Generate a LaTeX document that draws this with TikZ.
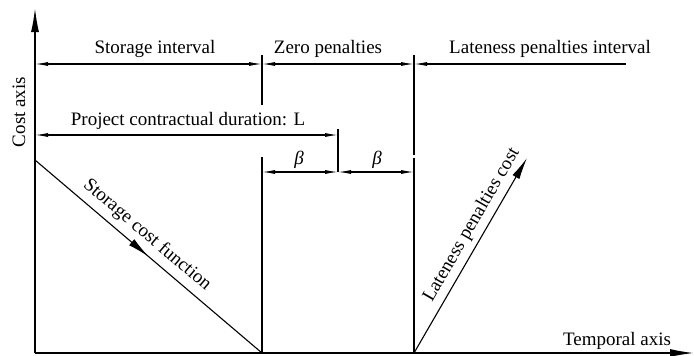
\documentclass[tikz,border=0pt]{standalone}
\usepackage{fontspec}
\setmainfont{Liberation Serif}
\usepackage{tikz}
\usetikzlibrary{arrows.meta, decorations.markings}
\tikzset{
    axis/.style   = {line width=1.5pt, -{Latex[length=24pt,width=8pt]}},
    dim/.style    = {line width=1.1pt},
    tip/.style    = {{Latex[length=13pt,width=4pt]}-{Latex[length=13pt,width=4pt]}},
    tick/.style   = {line width=1.1pt},
    lbl/.style    = {font=\fontsize{19}{22}\selectfont, inner sep=1pt},
    fn/.style     = {line width=1.1pt},
}

\begin{document}
\begin{tikzpicture}[x=1pt, y=-1pt]
        \useasboundingbox (0,0) rectangle (694,356);
        % axes
        \coordinate (O) at (35,353);
        \coordinate (Ytop) at (35,8);
        \coordinate (Xend) at (694,353);
        \draw[axis] (O) -- (Ytop);
        \draw[axis] (O) -- (Xend);
        \node[lbl, rotate=90] (costax) at (19,112) {Cost axis};
        \node[lbl] (tempax) at (617,341) {Temporal axis};
        % boundary ticks
        \coordinate (a1) at (262,55);  \coordinate (a2) at (262,105);
        \coordinate (a3) at (262,157); \coordinate (a4) at (262,353);
        \coordinate (b1) at (414,55);  \coordinate (b2) at (414,155);
        \coordinate (b3) at (414,158); \coordinate (b4) at (414,353);
        \coordinate (c1) at (338,129); \coordinate (c2) at (338,172);
        \draw[tick] (a1) -- (a2);
        \draw[tick] (a3) -- (a4);
        \draw[tick] (b1) -- (b2);
        \draw[tick] (b3) -- (b4);
        \draw[tick] (c1) -- (c2);
        % intervals
        \coordinate (s0) at (35,64);  \coordinate (s1) at (262,64);
        \coordinate (s2) at (414,64); \coordinate (s3) at (626,64);
        \draw[dim, tip] (s0) -- (s1);
        \draw[dim, tip] (s1) -- (s2);
        \draw[dim, {Latex[length=13pt,width=4pt]}-] (s2) -- (s3);
        \node[lbl] (stor) at (155,49) {Storage interval};
        \node[lbl] (zero) at (328,49) {Zero penalties};
        \node[lbl] (late) at (550,49) {Lateness penalties interval};
        % contractual duration
        \coordinate (L0) at (35,135); \coordinate (L1) at (338,135);
        \draw[dim, tip] (L0) -- (L1);
        \node[lbl] (dur) at (188,121) {Project contractual duration: L};
        \coordinate (B0) at (262,172); \coordinate (B1) at (338,172);
        \coordinate (B2) at (414,172);
        \draw[dim, tip] (B0) -- (B1);
        \draw[dim, tip] (B1) -- (B2);
        \node[lbl] (beta1) at (299,160) {\textit{β}};
        \node[lbl] (beta2) at (377,160) {\textit{β}};
        % cost functions
        \coordinate (f0) at (35,160); \coordinate (f1) at (262,353);
        \draw[fn, postaction={decorate}, decoration={markings,
            mark=at position 0.5 with {\arrow{Latex[length=22pt,width=8pt]}}}]
            (f0) -- (f1) node[lbl, sloped, above=5pt, pos=0.45] (storfn) {Storage cost function};
        \coordinate (g0) at (414,353); \coordinate (g1) at (527,158);
        \draw[fn, -{Latex[length=22pt,width=8pt]}] (g0) -- (g1)
            node[lbl, sloped, above=4pt, pos=0.62] (latefn) {Lateness penalties cost};
    \end{tikzpicture}
\end{document}
